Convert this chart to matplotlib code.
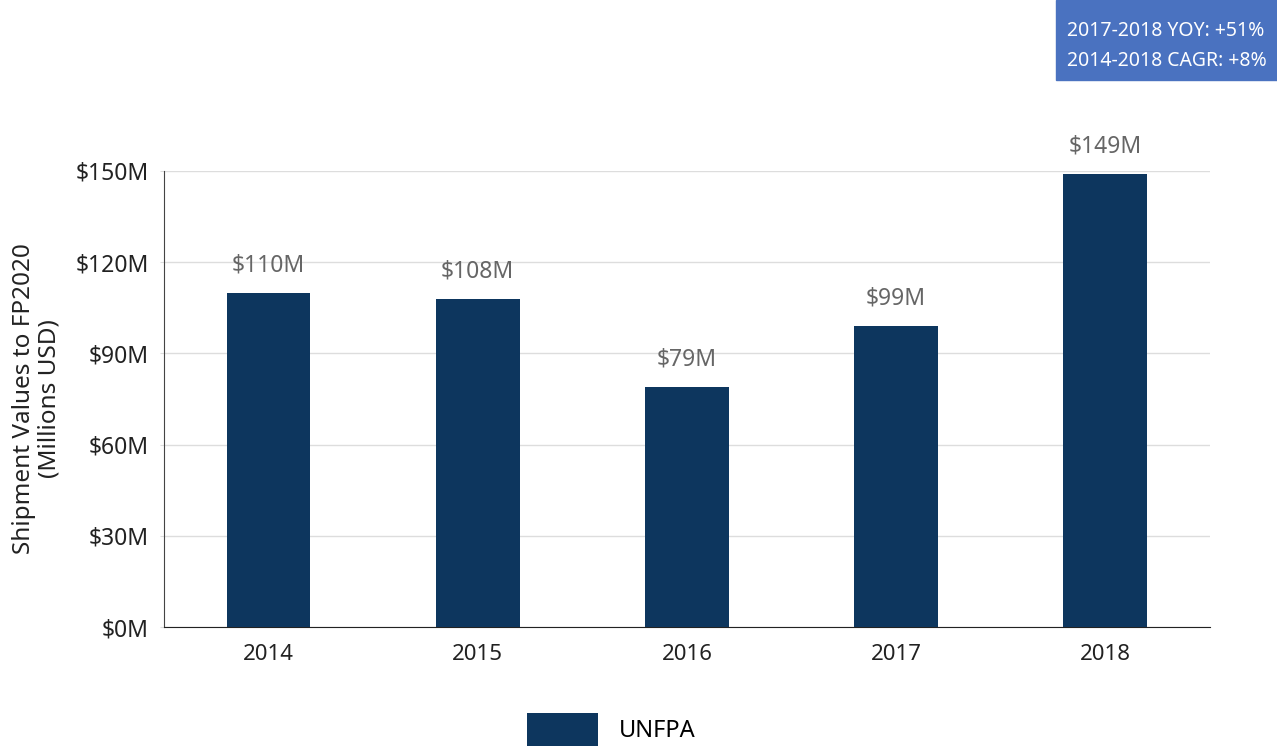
import matplotlib.pyplot as plt
from matplotlib.patches import Rectangle

plt.rcParams['font.family'] = ['Noto Sans', 'DejaVu Sans']

years = ["2014", "2015", "2016", "2017", "2018"]
values = [110, 108, 79, 99, 149]
labels = ["$110M", "$108M", "$79M", "$99M", "$149M"]
yticks = [0, 30, 60, 90, 120, 150]
ytick_labels = ["$0M", "$30M", "$60M", "$90M", "$120M", "$150M"]
bar_color = "#0d365e"

fig = plt.figure(figsize=(12.77, 7.46), dpi=100)
ax = fig.add_axes([0.1284, 0.1595, 0.819, 0.6113])

x = range(len(years))
ax.bar(x, values, width=0.4, color=bar_color, label="UNFPA", zorder=3)
for xi, v, lab in zip(x, values, labels):
    ax.annotate(lab, (xi, v), xytext=(0, 11), textcoords="offset points",
                ha="center", va="bottom", fontsize=16.5, color="#666666")

ax.set_xlim(-0.5, 4.5)
ax.set_ylim(0, 150)
ax.set_xticks(list(x))
ax.set_xticklabels(years, fontsize=16, color="#222222")
ax.set_yticks(yticks)
ax.set_yticklabels(ytick_labels, fontsize=16.5, color="#222222")
ax.tick_params(axis="x", length=0, pad=12)
ax.tick_params(axis="y", length=3, color="#dddddd", pad=8)
ax.grid(axis="y", color="#dddddd", lw=1, zorder=0)
for s in ["top", "right"]:
    ax.spines[s].set_visible(False)
ax.spines["left"].set_color("#444444")
ax.spines["bottom"].set_color("#222222")
ax.set_ylabel("Shipment Values to FP2020\n(Millions USD)", fontsize=17.5,
              color="#222222", linespacing=1.1, labelpad=10)

fig.legend(loc="center", bbox_to_anchor=(0.479, 0.022), frameon=False,
           fontsize=17, handlelength=3.0, handleheight=1.8, handletextpad=0.9,
           borderpad=0.2)

# summary box top right
fig.patches.append(Rectangle((1056 / 1277, 1 - 80 / 746), 221 / 1277, 80 / 746,
                             transform=fig.transFigure, color="#4a72c0"))
fig.text(1067 / 1277, 1 - 31 / 746, "2017-2018 YOY: +51%", color="white",
         fontsize=14, va="center")
fig.text(1067 / 1277, 1 - 61 / 746, "2014-2018 CAGR: +8%", color="white",
         fontsize=14, va="center")

fig.savefig("out.png", dpi=100)
